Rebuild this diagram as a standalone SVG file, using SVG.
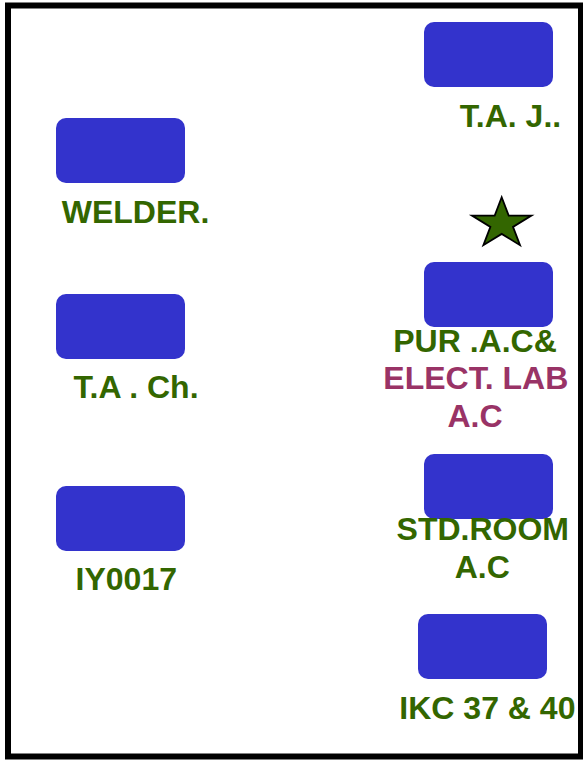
<svg xmlns="http://www.w3.org/2000/svg" width="583" height="762" viewBox="0 0 583 762">
<style>
.box{fill:#3333CC}
.g{fill:#336600;font-family:"Liberation Sans",Arial,sans-serif;font-weight:bold;font-size:32px;text-anchor:middle}
.m{fill:#993366}
</style>
<rect x="0" y="0" width="583" height="762" fill="#ffffff"/>
<rect x="8" y="5.5" width="573" height="751" fill="none" stroke="#000" stroke-width="6"/>
<g id="node-taj">
<rect class="box" x="424" y="22" width="129" height="65" rx="10"/>
<text class="g" x="510.5" y="127.3">T.A. J..</text>
</g>
<g id="node-welder">
<rect class="box" x="56" y="118" width="129" height="65" rx="10"/>
<text class="g" x="135.5" y="222.7">WELDER.</text>
</g>
<g id="node-tach">
<rect class="box" x="56" y="294" width="129" height="65" rx="10"/>
<text class="g" x="136" y="398.3">T.A . Ch.</text>
</g>
<g id="node-iy0017">
<rect class="box" x="56" y="486" width="129" height="65" rx="10"/>
<text class="g" x="126.3" y="590">IY0017</text>
</g>
<g id="star">
<polygon points="501.7,197.3 508.7,215.6 531.4,215.6 513,226.9 520,245.2 501.7,233.9 483.4,245.2 490.4,226.9 472,215.6 494.7,215.6" fill="#336600" stroke="#000" stroke-width="1.8" stroke-linejoin="miter"/>
</g>
<g id="node-pur">
<rect class="box" x="424" y="262" width="129" height="65" rx="10"/>
<text class="g" x="475" y="351.7">PUR .A.C&amp;</text>
<text class="g m" x="475.8" y="389.3">ELECT. LAB</text>
<text class="g m" x="475" y="427.3">A.C</text>
</g>
<g id="node-std">
<rect class="box" x="424" y="454" width="129" height="65" rx="10"/>
<text class="g" x="482.8" y="540">STD.ROOM</text>
<text class="g" x="482.2" y="578.3">A.C</text>
</g>
<g id="node-ikc">
<rect class="box" x="418" y="614" width="129" height="65" rx="10"/>
<text class="g" x="487.4" y="719.3">IKC 37 &amp; 40</text>
</g>
<g id="connectors"></g>
</svg>
